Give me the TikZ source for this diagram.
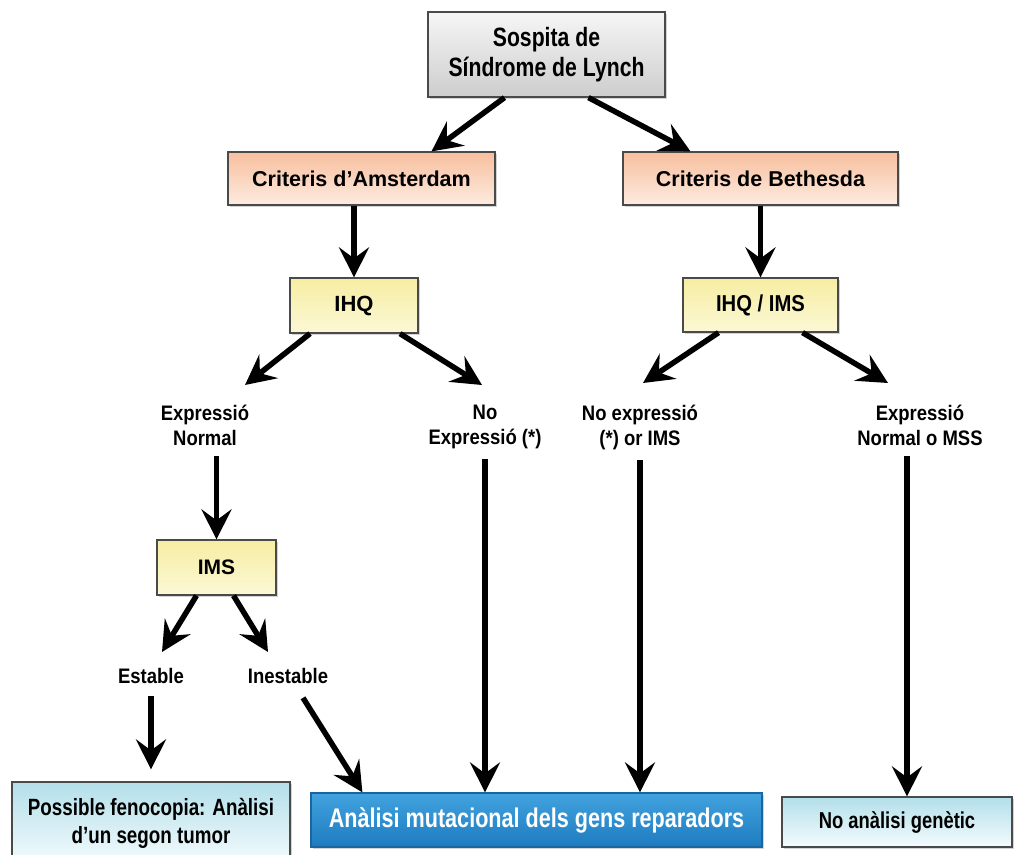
\documentclass[tikz,border=0pt]{standalone}
\usepackage{fontspec}
\setmainfont{Liberation Sans}
\newfontfamily\fN{Liberation Sans}[FakeStretch=0.80]
\newfontfamily\fM{Liberation Sans}[FakeStretch=0.88]
\newfontfamily\fW{Liberation Sans}
\usetikzlibrary{arrows.meta,calc,shadows}

\definecolor{boxline}{HTML}{4A4A4A}
\definecolor{grayT}{HTML}{F6F6F6}
\definecolor{grayB}{HTML}{CDCDCD}
\definecolor{salT}{HTML}{F7BF9E}
\definecolor{salB}{HTML}{FDEBE0}
\definecolor{yelT}{HTML}{F6EDA2}
\definecolor{yelB}{HTML}{FCF8D6}
\definecolor{cyT}{HTML}{B3DFEA}
\definecolor{cyB}{HTML}{F4FBFD}
\definecolor{bluT}{HTML}{42A3DE}
\definecolor{bluB}{HTML}{1E7BC0}
\definecolor{bluL}{HTML}{1A66A0}

\tikzset{
  basebox/.style={draw=boxline, line width=1.2pt, inner sep=0pt, align=center,
    drop shadow={shadow xshift=2pt, shadow yshift=-2pt, opacity=.35}},
  graybox/.style={basebox, top color=grayT, bottom color=grayB},
  salbox/.style={basebox, top color=salT, bottom color=salB},
  yelbox/.style={basebox, top color=yelT, bottom color=yelB},
  cybox/.style={basebox, top color=cyT, bottom color=cyB},
  bluebox/.style={basebox, draw=bluL, top color=bluT, bottom color=bluB, text=white},
  lbl/.style={inner sep=0pt, align=center, anchor=north,
    font=\fM\bfseries\fontsize{21}{25}\selectfont},
  arr/.style={line width=5.5pt, -{Stealth[length=30pt,width=30pt,inset=11pt]}}
}

\begin{document}
\begin{tikzpicture}[x=1pt,y=-1pt]
\useasboundingbox (0,0) rectangle (1014,854);

% boxes
\node[graybox, minimum width=237pt, minimum height=85pt,
  font=\fN\bfseries\fontsize{26.5}{30}\selectfont] (top) at (546.5,54.5)
  {Sospita de\\Síndrome de Lynch};
\node[salbox, minimum width=267pt, minimum height=53pt,
  font=\fW\bfseries\fontsize{21.5}{25}\selectfont] (ams) at (361.5,178.5)
  {Criteris d’Amsterdam};
\node[salbox, minimum width=275pt, minimum height=53pt,
  font=\fW\bfseries\fontsize{21.5}{25}\selectfont] (beth) at (760.5,178.5)
  {Criteris de Bethesda};
\node[yelbox, minimum width=128pt, minimum height=55pt,
  font=\fW\bfseries\fontsize{22}{25}\selectfont] (ihq) at (354,305.5) {IHQ};
\node[yelbox, minimum width=155pt, minimum height=54pt,
  font=\fM\bfseries\fontsize{23}{25}\selectfont] (ihqims) at (760.5,305) {IHQ / IMS};
\node[yelbox, minimum width=119pt, minimum height=55pt,
  font=\fW\bfseries\fontsize{21}{25}\selectfont] (ims) at (216.5,567.5) {IMS};
\node[cybox, minimum width=278pt, minimum height=82pt,
  font=\fN\bfseries\fontsize{23.5}{28}\selectfont] (fen) at (151,823)
  {Possible fenocopia: Anàlisi\\d’un segon tumor};
\node[bluebox, minimum width=451pt, minimum height=54pt,
  font=\fN\bfseries\fontsize{27}{30}\selectfont] (blue) at (536.5,820)
  {Anàlisi mutacional dels gens reparadors};
\node[cybox, minimum width=230pt, minimum height=50pt,
  font=\fN\bfseries\fontsize{23}{27}\selectfont] (nogen) at (897,822)
  {No anàlisi genètic};

% branch labels
\node[lbl] (lEN) at (205,405) {Expressió\\Normal};
\node[lbl] (lNE) at (485,405) {No\\Expressió (*)};
\node[lbl] (lNX) at (640,405) {No expressió\\(*) or IMS};
\node[lbl] (lEM) at (920,405) {Expressió\\Normal o MSS};
\node[lbl] (lEst) at (151,668) {Estable};
\node[lbl] (lIne) at (288,668) {Inestable};

% connectors
\draw[arr] ($(top.south)+(-42,0)$) -- ($(ams.north)+(70,0)$);
\draw[arr] ($(top.south)+(42,0)$) -- ($(beth.north)+(-70,0)$);
\draw[arr] (ihq.north |- ams.south) -- (ihq.north);
\draw[arr] (ihqims.north |- beth.south) -- (ihqims.north);
\draw[arr] ($(ihq.south)+(-44,0)$) -- ($(lEN.north)+(40,-20)$);
\draw[arr] ($(ihq.south)+(46,0)$) -- ($(lNE.north)+(-3,-20)$);
\draw[arr] ($(ihqims.south)+(-42,0)$) -- ($(lNX.north)+(3,-22)$);
\draw[arr] ($(ihqims.south)+(42,0)$) -- ($(lEM.north)+(-32,-22)$);
\draw[arr] ($(lEN.south -| ims.north)+(0,10)$) -- (ims.north);
\draw[arr] ($(ims.south)+(-20,0)$) -- ($(lEst.north)+(11,-16)$);
\draw[arr] ($(ims.south)+(17,0)$) -- ($(lIne.north)+(-20,-16)$);
\draw[arr] ($(lEst.south -| fen.north)+(0,12)$) -- ($(fen.north)+(0,-12)$);
\draw[arr] ($(lIne.south)+(15,14)$) -- ($(blue.north west)+(52,0)$);
\draw[arr] ($(lNE.south)+(0,10)$) -- (blue.north -| lNE.south);
\draw[arr] ($(lNX.south)+(0,10)$) -- (blue.north -| lNX.south);
\draw[arr] ($(lEM.south)+(-13,10)$) -- ($(nogen.north)+(10,0)$);
\end{tikzpicture}
\end{document}
